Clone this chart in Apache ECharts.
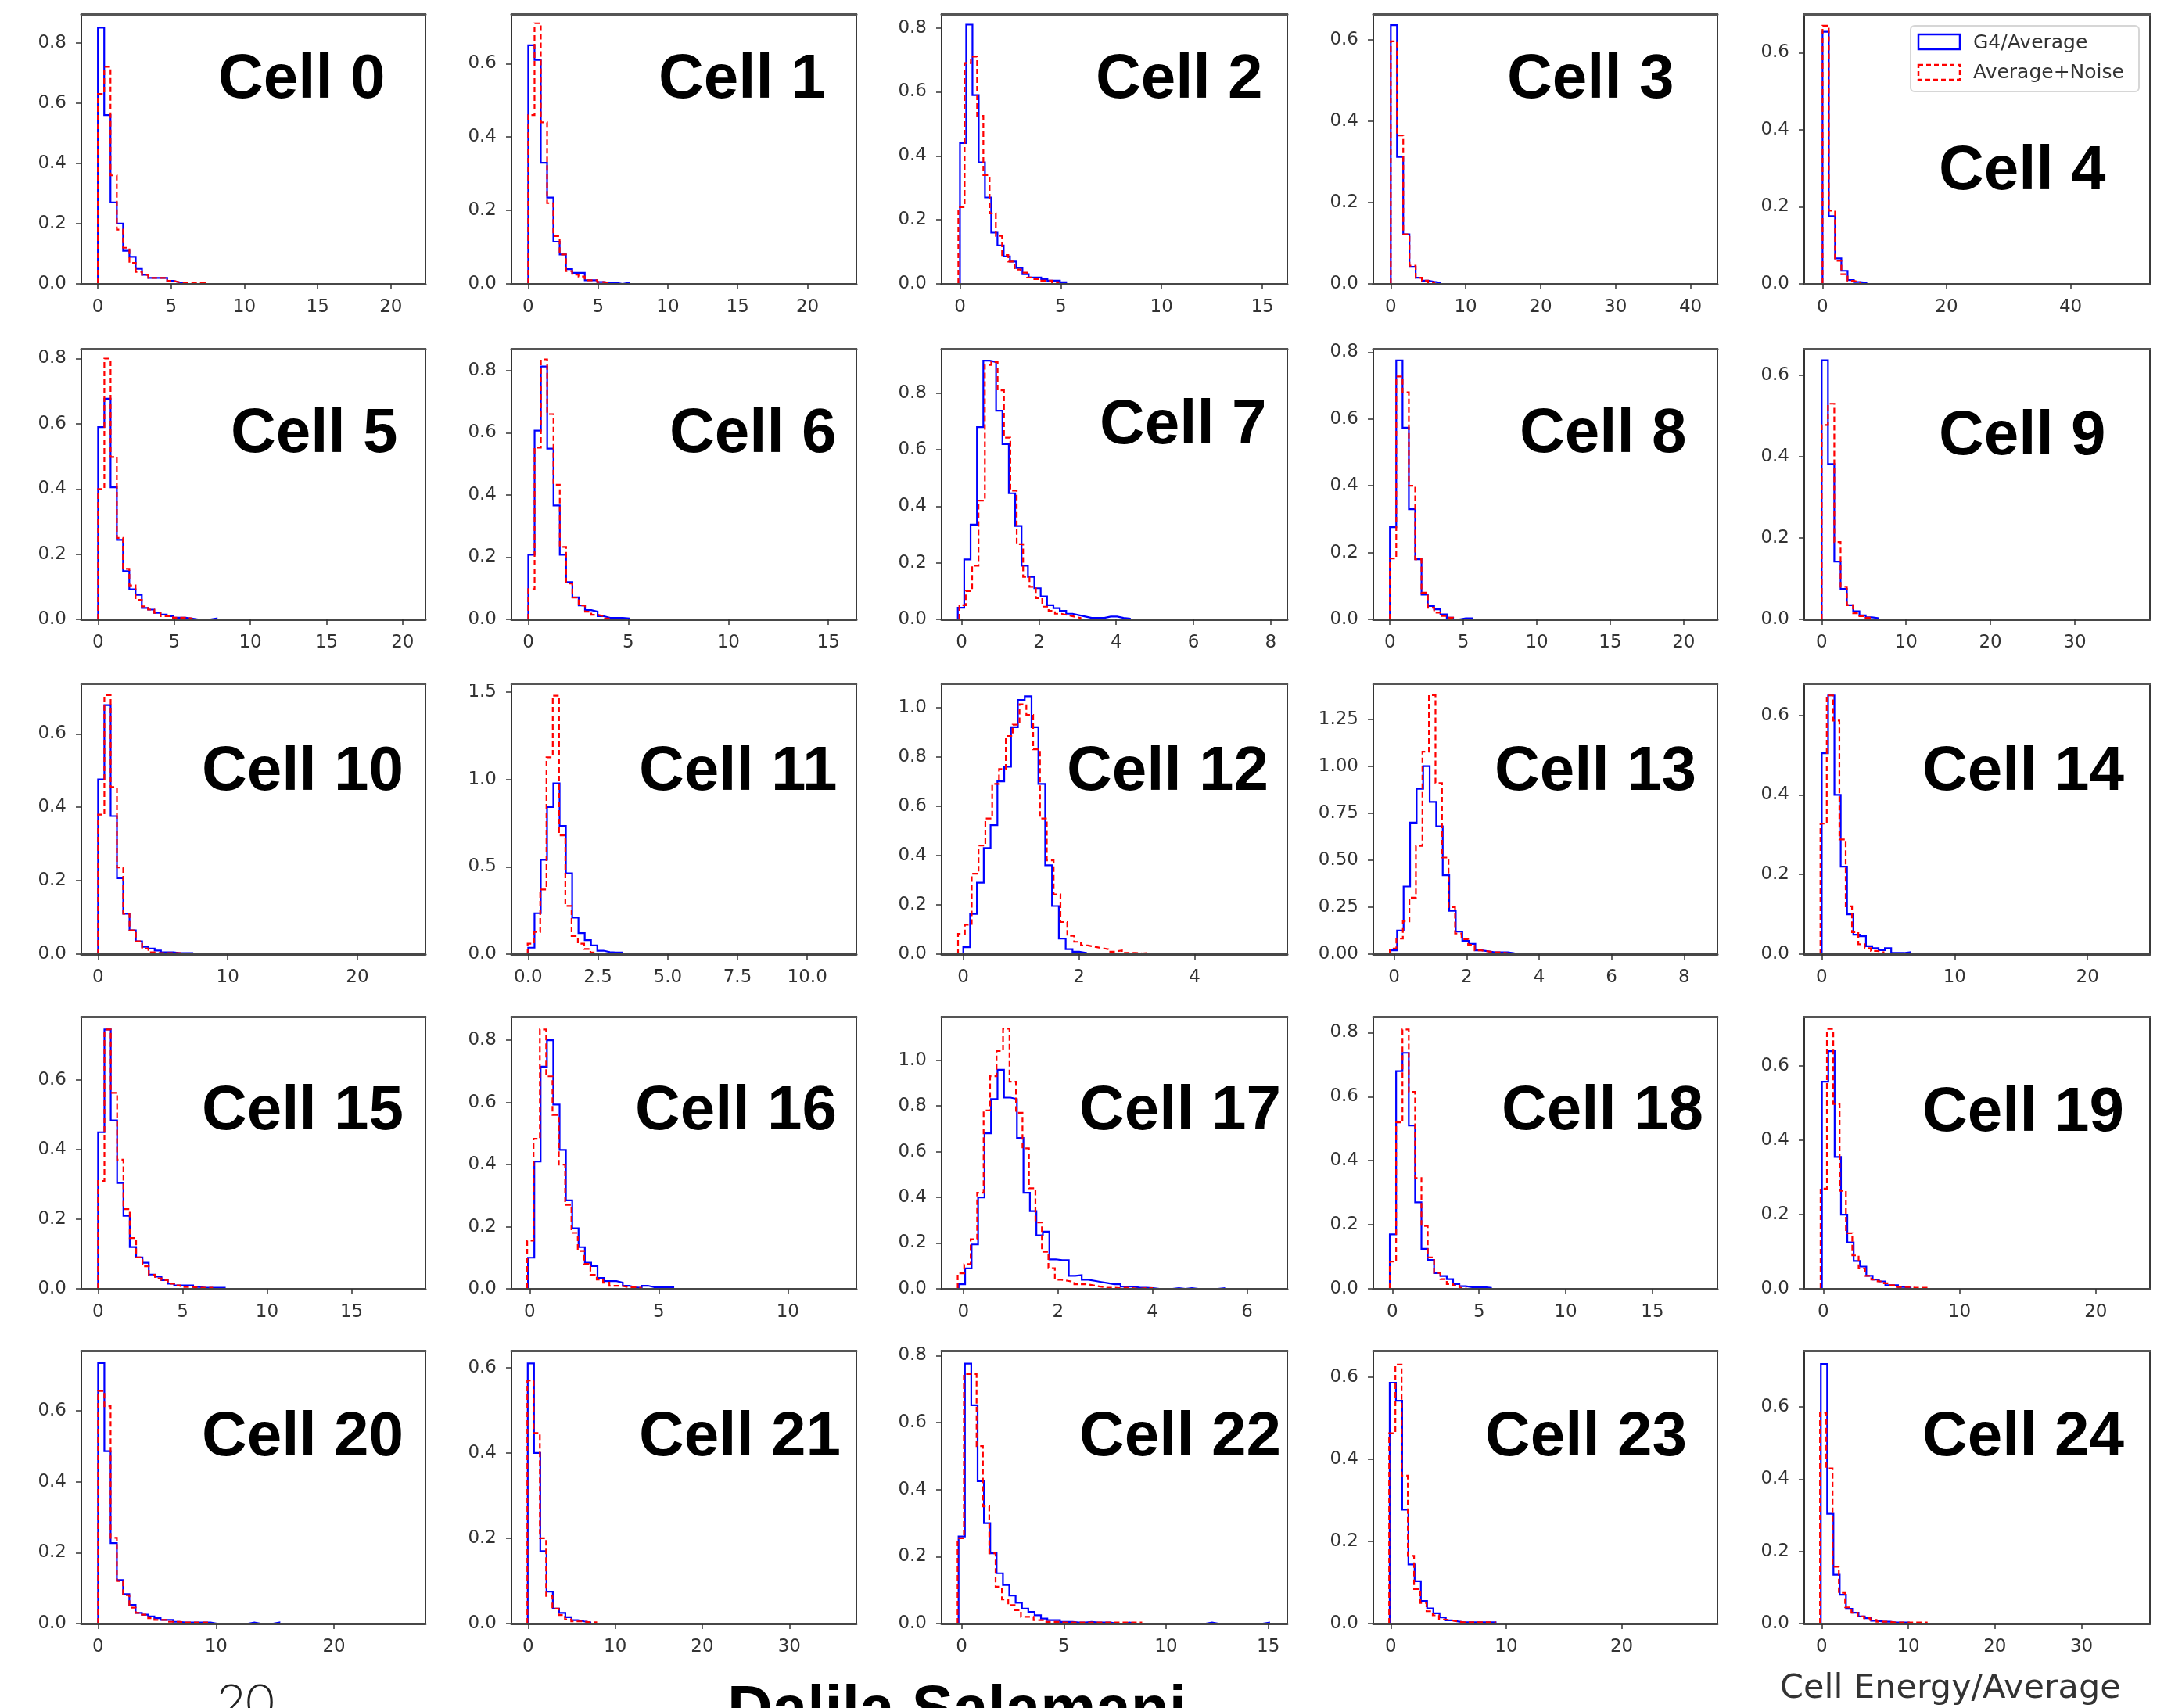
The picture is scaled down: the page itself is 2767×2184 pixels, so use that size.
<!DOCTYPE html>
<html>
<head>
<meta charset="utf-8">
<script src="https://cdn.jsdelivr.net/npm/echarts@6/dist/echarts.min.js"></script>
<style>
html, body { margin: 0; padding: 0; background: #fff; }
#chart { width: 2767px; height: 2184px; }
</style>
</head>
<body>
<div id="chart"></div>
<script>
// Normalised cell-energy distributions (cell energy / average) for a 5x5 block of cells:
// full simulation (G4/Average) against the average shower plus noise (Average+Noise).

const cellNames = [
  'Cell 0', 'Cell 1', 'Cell 2', 'Cell 3', 'Cell 4',
  'Cell 5', 'Cell 6', 'Cell 7', 'Cell 8', 'Cell 9',
  'Cell 10', 'Cell 11', 'Cell 12', 'Cell 13', 'Cell 14',
  'Cell 15', 'Cell 16', 'Cell 17', 'Cell 18', 'Cell 19',
  'Cell 20', 'Cell 21', 'Cell 22', 'Cell 23', 'Cell 24'
];
const seriesNames = ['G4/Average', 'Average+Noise'];

// histogram bin width per cell
const binWidth = [0.43, 0.45, 0.31, 0.83, 1.01, 0.41, 0.315, 0.165, 0.43, 0.745,
  0.485, 0.225, 0.118, 0.18, 0.475, 0.375, 0.245, 0.137, 0.365, 0.465,
  0.53, 0.72, 0.31, 0.54, 0.725];

// left edge of the first bin
const g4Start = [0, 0, 0, 0, 0, 0, 0, -0.1, 0, 0, 0, 0, 0, -0.1, 0,
  0, -0.07, -0.1, -0.15, -0.1, 0, -0.05, -0.15, -0.1, -0.1];
const noiseStart = [0, 0, -0.08, 0, 0, 0, 0, -0.06, 0, 0, 0, -0.02, -0.09, -0.12, -0.1,
  0, -0.1, -0.12, -0.15, -0.2, 0, -0.1, -0.2, -0.15, -0.2];

// normalised bin contents, G4/Average
const g4Heights = [
  [0.85, 0.56, 0.27, 0.2, 0.11, 0.09, 0.05, 0.03, 0.02, 0.02, 0.02, 0.01, 0.005, 0.003],
  [0.65, 0.61, 0.33, 0.235, 0.115, 0.08, 0.04, 0.03, 0.03, 0.01, 0.01, 0.005, 0.003, 0.003, 0, 0.003],
  [0.44, 0.81, 0.59, 0.38, 0.27, 0.16, 0.12, 0.086, 0.07, 0.05, 0.03, 0.02, 0.02, 0.015, 0.01, 0.01, 0.005],
  [0.636, 0.312, 0.122, 0.042, 0.015, 0.008, 0.005, 0.003],
  [0.654, 0.176, 0.066, 0.034, 0.01, 0.005, 0.003],
  [0.59, 0.677, 0.405, 0.244, 0.148, 0.092, 0.075, 0.035, 0.03, 0.02, 0.015, 0.01, 0.005, 0.005, 0.003, 0, 0, 0, 0.003],
  [0.208, 0.607, 0.813, 0.549, 0.366, 0.208, 0.12, 0.071, 0.045, 0.03, 0.025, 0.01, 0.005, 0.005, 0.005, 0.003],
  [0.041, 0.212, 0.335, 0.68, 0.915, 0.91, 0.738, 0.62, 0.446, 0.33, 0.19, 0.15, 0.11, 0.081, 0.05, 0.04, 0.03, 0.02, 0.015, 0.01, 0.005, 0.005, 0.005, 0.01, 0.01, 0.005, 0.003],
  [0.276, 0.775, 0.574, 0.33, 0.18, 0.074, 0.04, 0.03, 0.015, 0.005, 0, 0.003, 0.003],
  [0.637, 0.382, 0.142, 0.075, 0.035, 0.02, 0.01, 0.005, 0.003],
  [0.476, 0.678, 0.376, 0.207, 0.11, 0.065, 0.035, 0.02, 0.015, 0.01, 0.005, 0.005, 0.003, 0.003, 0.003],
  [0.037, 0.234, 0.54, 0.843, 0.978, 0.734, 0.463, 0.209, 0.12, 0.08, 0.05, 0.02, 0.012, 0.01, 0.01],
  [0.028, 0.163, 0.29, 0.43, 0.523, 0.70, 0.76, 0.92, 1.03, 1.045, 0.92, 0.69, 0.36, 0.195, 0.063, 0.02, 0.01, 0.005],
  [0.02, 0.125, 0.36, 0.70, 0.88, 1.0, 0.81, 0.68, 0.42, 0.23, 0.12, 0.07, 0.055, 0.02, 0.015, 0.01, 0.01, 0.01, 0.005, 0.003],
  [0.505, 0.65, 0.40, 0.22, 0.10, 0.049, 0.045, 0.02, 0.015, 0.01, 0.015, 0.003, 0.003, 0.005],
  [0.45, 0.745, 0.484, 0.304, 0.21, 0.12, 0.09, 0.075, 0.041, 0.035, 0.025, 0.015, 0.01, 0.01, 0.01, 0.005, 0.003, 0.003, 0.003, 0.003],
  [0.10, 0.41, 0.715, 0.80, 0.593, 0.447, 0.285, 0.195, 0.134, 0.084, 0.073, 0.035, 0.025, 0.025, 0.02, 0.01, 0.005, 0.003, 0.01, 0.005, 0.005, 0.005, 0.005],
  [0.02, 0.089, 0.194, 0.40, 0.68, 0.83, 0.958, 0.836, 0.83, 0.66, 0.42, 0.34, 0.234, 0.25, 0.129, 0.125, 0.125, 0.057, 0.06, 0.04, 0.035, 0.03, 0.025, 0.02, 0.02, 0.01, 0.01, 0.005, 0.005, 0.003, 0, 0, 0, 0.003, 0, 0.003, 0, 0, 0, 0, 0.003],
  [0.17, 0.68, 0.737, 0.51, 0.27, 0.125, 0.09, 0.049, 0.04, 0.03, 0.015, 0.008, 0.005, 0.005, 0.005, 0.003],
  [0.558, 0.64, 0.355, 0.20, 0.125, 0.075, 0.06, 0.035, 0.025, 0.02, 0.01, 0.01, 0.005, 0.003],
  [0.735, 0.486, 0.227, 0.123, 0.083, 0.053, 0.03, 0.025, 0.02, 0.015, 0.01, 0.01, 0.005, 0.003, 0.003, 0.003, 0.003, 0.003, 0, 0, 0, 0, 0, 0, 0.003, 0, 0, 0, 0.003],
  [0.61, 0.40, 0.17, 0.075, 0.035, 0.025, 0.015, 0.008, 0.005, 0.003],
  [0.26, 0.776, 0.652, 0.425, 0.30, 0.21, 0.15, 0.115, 0.084, 0.062, 0.045, 0.035, 0.025, 0.015, 0.01, 0.01, 0.005, 0.005, 0.003, 0.003, 0.005, 0.003, 0.003, 0.003, 0, 0, 0.003, 0, 0, 0, 0, 0, 0, 0, 0, 0, 0, 0, 0, 0.003, 0, 0, 0, 0, 0, 0, 0, 0, 0.003],
  [0.586, 0.542, 0.277, 0.144, 0.103, 0.055, 0.037, 0.025, 0.015, 0.008, 0.005, 0.003, 0.003, 0.003, 0.003, 0.003, 0.003],
  [0.719, 0.304, 0.135, 0.08, 0.041, 0.03, 0.02, 0.015, 0.008, 0.005, 0.005, 0.003, 0.003, 0.003]
];

// normalised bin contents, Average+Noise
const noiseHeights = [
  [0.63, 0.72, 0.36, 0.18, 0.12, 0.07, 0.04, 0.03, 0.02, 0.02, 0.02, 0.01, 0.005, 0.005, 0.005, 0.003, 0.003],
  [0.46, 0.71, 0.44, 0.22, 0.13, 0.08, 0.035, 0.025, 0.02, 0.01, 0.01, 0.005, 0.003],
  [0.24, 0.69, 0.71, 0.525, 0.34, 0.22, 0.15, 0.09, 0.07, 0.045, 0.035, 0.02, 0.015, 0.01, 0.01, 0.005],
  [0.596, 0.365, 0.122, 0.045, 0.015, 0.008, 0.004],
  [0.67, 0.19, 0.06, 0.025, 0.008, 0.004],
  [0.40, 0.80, 0.498, 0.25, 0.155, 0.104, 0.06, 0.04, 0.03, 0.02, 0.01, 0.01, 0.005, 0.005, 0.003],
  [0.097, 0.552, 0.836, 0.66, 0.433, 0.233, 0.115, 0.07, 0.045, 0.025, 0.015, 0.01, 0.003],
  [0.05, 0.1, 0.19, 0.42, 0.9, 0.91, 0.81, 0.643, 0.455, 0.266, 0.15, 0.115, 0.075, 0.045, 0.03, 0.02, 0.015, 0.01, 0.005],
  [0.182, 0.727, 0.68, 0.40, 0.18, 0.08, 0.035, 0.02, 0.01, 0.005],
  [0.478, 0.53, 0.19, 0.08, 0.035, 0.015, 0.008, 0.004],
  [0.38, 0.705, 0.455, 0.236, 0.11, 0.065, 0.035, 0.015, 0.005, 0.003, 0.003, 0.003, 0.003],
  [0.06, 0.127, 0.37, 1.127, 1.48, 0.68, 0.276, 0.104, 0.06, 0.03, 0.01],
  [0.082, 0.119, 0.326, 0.44, 0.55, 0.69, 0.75, 0.884, 0.93, 1.013, 0.97, 0.83, 0.55, 0.38, 0.242, 0.13, 0.074, 0.05, 0.035, 0.03, 0.025, 0.02, 0.01, 0.015, 0.005, 0.005, 0.003, 0.005],
  [0.03, 0.083, 0.174, 0.30, 0.576, 1.077, 1.378, 0.91, 0.514, 0.25, 0.11, 0.08, 0.05, 0.02, 0.015, 0.01, 0.01, 0.005],
  [0.328, 0.65, 0.587, 0.288, 0.12, 0.055, 0.025, 0.015, 0.008, 0.005],
  [0.31, 0.745, 0.563, 0.371, 0.229, 0.146, 0.09, 0.065, 0.04, 0.03, 0.025, 0.015, 0.01, 0.005, 0.005, 0.003, 0.003, 0.003],
  [0.155, 0.483, 0.835, 0.684, 0.56, 0.40, 0.27, 0.18, 0.122, 0.08, 0.045, 0.03, 0.02, 0.01, 0.01, 0.005, 0.005, 0.003],
  [0.068, 0.108, 0.217, 0.42, 0.78, 0.93, 1.04, 1.137, 0.906, 0.77, 0.614, 0.44, 0.29, 0.162, 0.09, 0.04, 0.035, 0.03, 0.02, 0.02, 0.015, 0.01, 0.005, 0.005, 0.003, 0.005, 0.003, 0, 0.003, 0.003],
  [0.085, 0.52, 0.81, 0.615, 0.346, 0.196, 0.098, 0.05, 0.03, 0.015, 0.01, 0.003],
  [0.27, 0.70, 0.498, 0.264, 0.15, 0.09, 0.055, 0.035, 0.025, 0.02, 0.015, 0.01, 0.005, 0.005, 0.003, 0.003, 0.003],
  [0.656, 0.613, 0.242, 0.12, 0.08, 0.045, 0.03, 0.025, 0.015, 0.01, 0.01, 0.005, 0.005, 0.003, 0.003, 0.003, 0.003, 0.003],
  [0.57, 0.447, 0.20, 0.065, 0.035, 0.02, 0.01, 0.005, 0.005, 0.003, 0.003],
  [0.255, 0.745, 0.745, 0.53, 0.35, 0.21, 0.11, 0.072, 0.055, 0.04, 0.02, 0.02, 0.01, 0.01, 0.005, 0.005, 0.003, 0.003, 0.003, 0.003, 0.003, 0.003, 0.003, 0.003, 0.003, 0.003, 0.003, 0.003, 0.003],
  [0.463, 0.63, 0.36, 0.165, 0.084, 0.05, 0.03, 0.02, 0.01, 0.008, 0.005, 0.003, 0.003, 0.003, 0.003, 0.003, 0.003],
  [0.584, 0.43, 0.157, 0.085, 0.045, 0.03, 0.02, 0.015, 0.01, 0.005, 0.005, 0.003, 0.003, 0.003, 0.003, 0.003, 0.003]
];

// axis limits per cell
const xRange = [
  [-1.13, 22.36], [-1.2, 23.5], [-0.91, 16.24], [-2.33, 43.6], [-2.95, 52.8],
  [-1.1, 21.5], [-0.84, 16.4], [-0.52, 8.43], [-1.13, 22.3], [-2.07, 38.9],
  [-1.29, 25.25], [-0.6, 11.76], [-0.374, 5.6], [-0.575, 8.92], [-1.32, 24.7],
  [-0.99, 19.37], [-0.71, 12.66], [-0.46, 6.85], [-1.1, 18.75], [-1.4, 23.97],
  [-1.42, 27.75], [-1.92, 37.7], [-0.98, 15.93], [-1.52, 28.3], [-2.02, 37.9]
];
const yTop = [0.895, 0.735, 0.843, 0.663, 0.70, 0.83, 0.87, 0.957, 0.81, 0.665,
  0.737, 1.55, 1.097, 1.44, 0.68, 0.782, 0.876, 1.19, 0.85, 0.733,
  0.77, 0.64, 0.815, 0.664, 0.756];

// tick labels
const X5 = ['0', '5', '10', '15', '20'];
const X15 = ['0', '5', '10', '15'];
const X10 = ['0', '10', '20'];
const X30 = ['0', '10', '20', '30'];
const xTickLabels = [
  X5, X5, X15, ['0', '10', '20', '30', '40'], ['0', '20', '40'],
  X5, X15, ['0', '2', '4', '6', '8'], X5, X30,
  X10, ['0.0', '2.5', '5.0', '7.5', '10.0'], ['0', '2', '4'], ['0', '2', '4', '6', '8'], X10,
  X15, ['0', '5', '10'], ['0', '2', '4', '6'], X15, X10,
  X10, X30, X15, X10, X30
];
const Y6 = ['0.0', '0.2', '0.4', '0.6'];
const Y8 = ['0.0', '0.2', '0.4', '0.6', '0.8'];
const Y10 = ['0.0', '0.2', '0.4', '0.6', '0.8', '1.0'];
const yTickLabels = [
  Y8, Y6, Y8, Y6, Y6,
  Y8, Y8, Y8, Y8, Y6,
  Y6, ['0.0', '0.5', '1.0', '1.5'], Y10, ['0.00', '0.25', '0.50', '0.75', '1.00', '1.25'], Y6,
  Y6, Y8, Y10, Y8, Y6,
  Y6, Y6, Y8, Y6, Y6
];

// ---- layout (pixels) ----
const colLeft = [104, 654, 1204, 1756, 2307];
const colWidth = [440, 441, 442, 440, 442];
const rowTop = [18, 446, 874, 1300, 1727];
const rowBottom = [363, 792, 1220, 1648, 2076];
// panel titles: left edge and vertical centre
const titlePos = [
  [279, 103], [842, 103], [1401, 103], [1927, 103], [2479, 220],
  [295, 556], [856, 556], [1406, 545], [1943, 556], [2479, 559],
  [258, 988], [817, 988], [1364, 988], [1911, 988], [2458, 988],
  [258, 1422], [812, 1422], [1380, 1422], [1920, 1422], [2458, 1424],
  [258, 1839], [817, 1839], [1380, 1839], [1899, 1839], [2458, 1839]
];

const TICK_FONT = 'DejaVu Sans';
const BLUE = '#0000ff';
const RED = '#ff0000';

// step outline of a histogram, as drawn by histtype='step'
function stepOutline(x0, w, heights) {
  const pts = [[x0, 0]];
  heights.forEach((h, i) => {
    const a = x0 + i * w;
    pts.push([a, h], [a + w, h]);
  });
  pts.push([x0 + heights.length * w, 0]);
  return pts;
}

function labelFormatter(labels) {
  const vals = labels.map(Number);
  return v => {
    const k = vals.findIndex(t => Math.abs(t - v) < 1e-9);
    return k >= 0 ? labels[k] : '';
  };
}

const grids = [], xAxes = [], yAxes = [], series = [], graphics = [];

for (let i = 0; i < 25; i++) {
  const r = Math.floor(i / 5), c = i % 5;
  grids.push({
    left: colLeft[c], top: rowTop[r],
    width: colWidth[c], height: rowBottom[r] - rowTop[r],
    show: true, borderColor: '#3a3a3a', borderWidth: 2, backgroundColor: '#fff'
  });

  const xVals = xTickLabels[i].map(Number);
  const yVals = yTickLabels[i].map(Number);

  // bottom axis with ticks and labels
  xAxes.push({
    gridIndex: i, type: 'value', position: 'bottom',
    min: xRange[i][0], max: xRange[i][1], z: 5,
    axisLine: { show: true, onZero: false, lineStyle: { color: '#474747', width: 3 } },
    axisTick: { show: true, length: 7, customValues: xVals, lineStyle: { color: '#333', width: 1.5 } },
    axisLabel: {
      customValues: xVals, formatter: labelFormatter(xTickLabels[i]),
      margin: 19, fontFamily: TICK_FONT, fontSize: 23, color: '#333'
    },
    splitLine: { show: false }
  });
  // top spine
  xAxes.push({
    gridIndex: i, type: 'value', position: 'top',
    min: xRange[i][0], max: xRange[i][1], z: 5,
    axisLine: { show: true, onZero: false, lineStyle: { color: '#555', width: 3 } },
    axisTick: { show: false }, axisLabel: { show: false }, splitLine: { show: false }
  });
  yAxes.push({
    gridIndex: i, type: 'value', min: 0, max: yTop[i], z: 5,
    axisLine: { show: true, onZero: false, lineStyle: { color: '#333', width: 2 } },
    axisTick: { show: true, length: 7, customValues: yVals, lineStyle: { color: '#333', width: 1.5 } },
    axisLabel: {
      customValues: yVals, formatter: labelFormatter(yTickLabels[i]),
      margin: 19, fontFamily: TICK_FONT, fontSize: 23, color: '#333'
    },
    splitLine: { show: false }
  });

  series.push({
    name: seriesNames[0], type: 'line', xAxisIndex: 2 * i, yAxisIndex: i,
    data: stepOutline(g4Start[i], binWidth[i], g4Heights[i]),
    symbol: 'none', silent: true, z: 2,
    lineStyle: { color: BLUE, width: 2.2, join: 'miter' }
  });
  series.push({
    name: seriesNames[1], type: 'line', xAxisIndex: 2 * i, yAxisIndex: i,
    data: stepOutline(noiseStart[i], binWidth[i], noiseHeights[i]),
    symbol: 'none', silent: true, z: 3,
    lineStyle: { color: RED, width: 2.2, type: [7, 4], join: 'miter' }
  });

  graphics.push({
    type: 'text', x: titlePos[i][0], y: titlePos[i][1], z: 50,
    style: {
      text: cellNames[i], fill: '#000',
      fontFamily: '"Liberation Sans", Arial, sans-serif', fontWeight: 'bold', fontSize: 80,
      align: 'left', verticalAlign: 'middle', textAlign: 'left', textVerticalAlign: 'middle'
    }
  });
}

// legend box inside the Cell 4 panel
graphics.push(
  { type: 'rect', z: 60, shape: { x: 2443, y: 33, width: 292, height: 84, r: 5 },
    style: { fill: '#fff', stroke: '#d6d6d6', lineWidth: 2 } },
  { type: 'rect', z: 61, shape: { x: 2453, y: 44, width: 53, height: 19 },
    style: { fill: 'none', stroke: BLUE, lineWidth: 2.5 } },
  { type: 'rect', z: 61, shape: { x: 2453, y: 83, width: 53, height: 19 },
    style: { fill: 'none', stroke: RED, lineWidth: 2.5, lineDash: [6, 4] } },
  { type: 'text', z: 61, x: 2523, y: 55,
    style: { text: seriesNames[0], fill: '#333', fontFamily: TICK_FONT, fontSize: 25,
      align: 'left', verticalAlign: 'middle', textAlign: 'left', textVerticalAlign: 'middle' } },
  { type: 'text', z: 61, x: 2523, y: 93,
    style: { text: seriesNames[1], fill: '#333', fontFamily: TICK_FONT, fontSize: 25,
      align: 'left', verticalAlign: 'middle', textAlign: 'left', textVerticalAlign: 'middle' } }
);

// footer: axis caption, page number and author
graphics.push(
  { type: 'text', z: 50, x: 2276, y: 2160,
    style: { text: 'Cell Energy/Average', fill: '#333', fontFamily: TICK_FONT, fontSize: 43,
      align: 'left', verticalAlign: 'middle', textAlign: 'left', textVerticalAlign: 'middle' } },
  { type: 'text', z: 50, x: 277, y: 2178,
    style: { text: '20', fill: '#222', fontFamily: 'Lato, "Open Sans", sans-serif', fontWeight: 300, fontSize: 64,
      align: 'left', verticalAlign: 'middle', textAlign: 'left', textVerticalAlign: 'middle' } },
  { type: 'text', z: 50, x: 930, y: 2189,
    style: { text: 'Dalila Salamani', fill: '#000',
      fontFamily: '"Liberation Sans", Arial, sans-serif', fontWeight: 'bold', fontSize: 80,
      align: 'left', verticalAlign: 'middle', textAlign: 'left', textVerticalAlign: 'middle' } }
);

const chart = echarts.init(document.getElementById('chart'), null, { renderer: 'canvas' });
chart.setOption({
  animation: false,
  backgroundColor: '#fff',
  grid: grids,
  xAxis: xAxes,
  yAxis: yAxes,
  series: series,
  graphic: { elements: graphics }
});
</script>
</body>
</html>
